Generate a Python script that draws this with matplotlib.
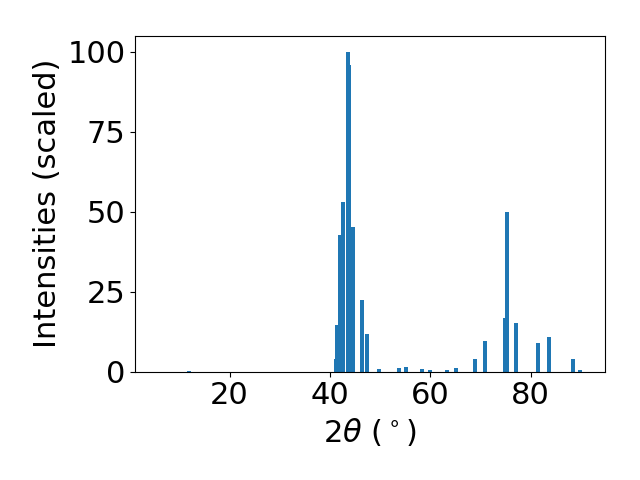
import numpy as np
import matplotlib
matplotlib.use("Agg")
import matplotlib.pyplot as plt

# peak positions (2theta, degrees) and scaled intensities
two_theta = [11.93, 41.23, 41.43, 41.93, 42.6, 43.58, 43.78, 44.58, 46.37, 47.37,
             49.76, 53.74, 55.14, 58.33, 59.93, 63.31, 65.1, 68.89, 70.89,
             74.87, 75.27, 77.07, 81.45, 83.64, 88.43, 89.82]
intensity = [0.3, 3.9, 14.5, 42.8, 53.0, 100.0, 96.0, 45.3, 22.4, 11.7,
             0.7, 1.2, 1.5, 0.7, 0.4, 0.4, 1.2, 3.8, 9.4,
             16.7, 50.0, 15.1, 8.8, 10.7, 3.8, 0.4]

plt.rcParams['font.size'] = 22

fig, ax = plt.subplots(figsize=(6.4, 4.8), dpi=100)
fig.subplots_adjust(left=0.211, right=0.945, bottom=0.226, top=0.925)

ax.bar(two_theta, intensity, width=0.8, color='tab:blue')

ax.set_xlim(1.18, 94.75)
ax.set_ylim(0, 105)
ax.set_xticks([20, 40, 60, 80])
ax.set_yticks([0, 25, 50, 75, 100])
ax.set_xlabel(r"$2\theta$ ($^\circ$)")
ax.set_ylabel("Intensities (scaled)")

fig.savefig("out.png")
